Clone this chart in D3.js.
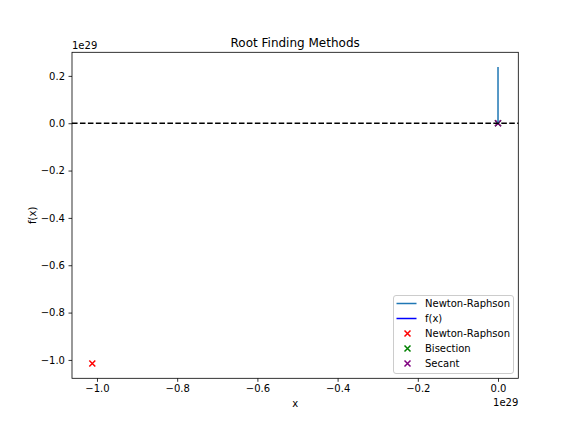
<!DOCTYPE html>
<html>
<head>
<meta charset="utf-8">
<script src="https://cdn.jsdelivr.net/npm/d3@7"></script>
<style>
  body { margin: 0; background: #fff; }
  text { font-family: "DejaVu Sans", sans-serif; fill: #000; }
</style>
</head>
<body>
<script>
// Newton-Raphson iterate history, plotted against iteration index
const newtonIter = [0, 1, 2, 3, 4, 5, 6, 7];
const newtonValues = [1.0, 0.5, -2.0, 12.5, -1.8e3, 4.6e7, -3.1e14, 2.37e28];

// f(x) curve over a small window (invisible at this scale)
const fX = [-2, -1, 0, 1, 2];
const fY = [-6, -1, 0, 1, 6];

// final roots found by each method: [x, f(x)]
const methods = ["Newton-Raphson", "Bisection", "Secant"];
const rootX = [-1.0117e29, 1.5, 1.5];
const rootY = [-1.015e29, 0.0, 0.0];
const rootColors = ["red", "green", "purple"];

const xTicks = [-1.0, -0.8, -0.6, -0.4, -0.2, 0.0];
const yTicks = [-1.0, -0.8, -0.6, -0.4, -0.2, 0.0, 0.2];
const scaleExp = 29;

const width = 576, height = 432;
const marginLeft = 72, marginRight = 57.7, marginTop = 52.3, marginBottom = 53.7;

const allX = [...newtonIter, ...fX, ...rootX];
const allY = [...newtonValues, ...fY, ...rootY, 0];
const pad = ([a, b]) => [a - (b - a) * 0.05, b + (b - a) * 0.05];

const x = d3.scaleLinear(pad(d3.extent(allX)), [marginLeft, width - marginRight]);
const y = d3.scaleLinear(pad(d3.extent(allY)), [height - marginBottom, marginTop]);

const unit = Math.pow(10, scaleExp);
const fmt = d3.format(".1f");

const svg = d3.select("body").append("svg")
    .attr("width", width)
    .attr("height", height)
    .attr("viewBox", [0, 0, width, height]);

// scatter markers (zorder below lines, as in matplotlib)
const xMarker = (g, cx, cy, color, r = 3) => {
  g.append("path")
      .attr("d", `M${cx - r},${cy - r}L${cx + r},${cy + r}M${cx - r},${cy + r}L${cx + r},${cy - r}`)
      .attr("stroke", color)
      .attr("stroke-width", 1.5)
      .attr("fill", "none");
};

const plot = svg.append("g");
rootX.forEach((d, i) => xMarker(plot, x(d), y(rootY[i]), rootColors[i]));

const line = d3.line();
plot.append("path")
    .attr("d", line(newtonIter.map((d, i) => [x(d), y(newtonValues[i])])))
    .attr("fill", "none")
    .attr("stroke", "#1f77b4")
    .attr("stroke-width", 1.5);

plot.append("path")
    .attr("d", line(fX.map((d, i) => [x(d), y(fY[i])])))
    .attr("fill", "none")
    .attr("stroke", "#0000ff")
    .attr("stroke-width", 1.5);

plot.append("line")
    .attr("x1", marginLeft).attr("x2", width - marginRight)
    .attr("y1", y(0)).attr("y2", y(0))
    .attr("stroke", "#000")
    .attr("stroke-width", 1.5)
    .attr("stroke-dasharray", "5.55,2.4");

// axes
const xAxis = d3.axisBottom(x)
    .tickValues(xTicks.map(d => d * unit))
    .tickFormat(d => fmt(d / unit))
    .tickSize(3.5).tickPadding(3.5).tickSizeOuter(0);
const yAxis = d3.axisLeft(y)
    .tickValues(yTicks.map(d => d * unit))
    .tickFormat(d => fmt(d / unit))
    .tickSize(3.5).tickPadding(3.5).tickSizeOuter(0);

svg.append("g")
    .attr("transform", `translate(0,${height - marginBottom})`)
    .call(xAxis)
    .call(g => g.select(".domain").remove())
    .call(g => g.selectAll(".tick line").attr("stroke-width", 0.8))
    .call(g => g.selectAll("text").attr("font-size", 10).attr("font-family", "DejaVu Sans"));

svg.append("g")
    .attr("transform", `translate(${marginLeft},0)`)
    .call(yAxis)
    .call(g => g.select(".domain").remove())
    .call(g => g.selectAll(".tick line").attr("stroke-width", 0.8))
    .call(g => g.selectAll("text").attr("font-size", 10).attr("font-family", "DejaVu Sans"));

svg.append("rect")
    .attr("x", marginLeft).attr("y", marginTop)
    .attr("width", width - marginLeft - marginRight)
    .attr("height", height - marginTop - marginBottom)
    .attr("fill", "none")
    .attr("stroke", "#000")
    .attr("stroke-width", 0.8);

// texts
svg.append("text")
    .attr("x", (marginLeft + width - marginRight) / 2).attr("y", 47)
    .attr("text-anchor", "middle").attr("font-size", 12)
    .text("Root Finding Methods");

svg.append("text")
    .attr("x", (marginLeft + width - marginRight) / 2).attr("y", 407)
    .attr("text-anchor", "middle").attr("font-size", 10)
    .text("x");

svg.append("text")
    .attr("transform", `translate(36,${(marginTop + height - marginBottom) / 2}) rotate(-90)`)
    .attr("text-anchor", "middle").attr("font-size", 10)
    .text("f(x)");

svg.append("text")
    .attr("x", marginLeft).attr("y", 48.5)
    .attr("font-size", 10)
    .text(`1e${scaleExp}`);

svg.append("text")
    .attr("x", width - marginRight).attr("y", 405.5)
    .attr("text-anchor", "end").attr("font-size", 10)
    .text(`1e${scaleExp}`);

// legend
const legendItems = [
  {label: "Newton-Raphson", type: "line", color: "#1f77b4"},
  {label: "f(x)", type: "line", color: "#0000ff"},
  ...methods.map((m, i) => ({label: m, type: "marker", color: rootColors[i]}))
];
const lgX = 393.5, lgY = 295.5, lgW = 120, lgH = 78;
const legend = svg.append("g");
legend.append("rect")
    .attr("x", lgX).attr("y", lgY).attr("width", lgW).attr("height", lgH)
    .attr("rx", 2.5)
    .attr("fill", "#fff").attr("fill-opacity", 0.8)
    .attr("stroke", "#cccccc").attr("stroke-width", 1);

legendItems.forEach((d, i) => {
  const cy = 303.5 + i * 15;
  if (d.type === "line") {
    legend.append("line")
        .attr("x1", lgX + 3).attr("x2", lgX + 23)
        .attr("y1", cy).attr("y2", cy)
        .attr("stroke", d.color).attr("stroke-width", 1.5);
  } else {
    xMarker(legend, lgX + 14, cy, d.color);
  }
  legend.append("text")
      .attr("x", lgX + 31.5).attr("y", cy)
      .attr("dy", "0.35em").attr("font-size", 10)
      .text(d.label);
});
</script>
</body>
</html>
